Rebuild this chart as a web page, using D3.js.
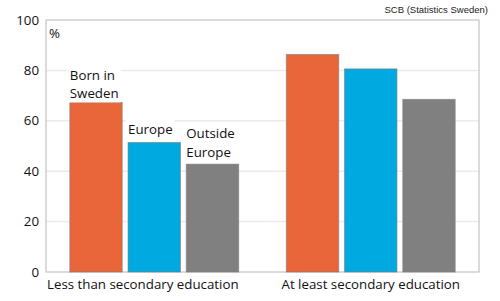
<!DOCTYPE html>
<html>
<head>
<meta charset="utf-8">
<script src="https://cdn.jsdelivr.net/npm/d3@7"></script>
<style>
  body { margin: 0; background: #fff; }
  text { font-family: "Open Sans", sans-serif; fill: #111; }
</style>
</head>
<body>
<div id="chart"></div>
<script>
var categories = ["Less than secondary education", "At least secondary education"];
var series = ["Born in Sweden", "Europe", "Outside Europe"];
var seriesLabels = [["Born in", "Sweden"], ["Europe"], ["Outside", "Europe"]];
var values = [
  [67.3, 51.4, 42.8],
  [86.3, 80.6, 68.5]
];
var colors = ["#e8663a", "#00a9e0", "#808080"];
var yTicks = [0, 20, 40, 60, 80, 100];

var width = 500, height = 301;
var margin = {top: 20, right: 21, bottom: 29, left: 46};
var w = width - margin.left - margin.right;
var h = height - margin.top - margin.bottom;
var fontSize = "13.3px";
var labelGap = [4, 8.5, 7.5];

var svg = d3.select("#chart").append("svg")
  .attr("width", width)
  .attr("height", height);

var g = svg.append("g")
  .attr("transform", "translate(" + margin.left + "," + margin.top + ")");

var x0 = d3.scaleBand().domain(categories).range([0, w]).paddingInner(0.22).paddingOuter(0.11);
var x1 = d3.scaleBand().domain(series).range([0, x0.bandwidth()]).paddingInner(0.1);
var y = d3.scaleLinear().domain([0, 100]).range([h, 0]);

// grid lines
g.selectAll("line.grid")
  .data(yTicks.filter(function(d){ return d > 0 && d < 100; }))
  .enter().append("line")
  .attr("class", "grid")
  .attr("x1", 0).attr("x2", w)
  .attr("y1", function(d){ return y(d); })
  .attr("y2", function(d){ return y(d); })
  .attr("stroke", "#ebebeb")
  .attr("stroke-width", 1.5);

// frame
g.append("rect")
  .attr("x", 0).attr("y", 0)
  .attr("width", w).attr("height", h)
  .attr("fill", "none")
  .attr("stroke", "#c4c4c4")
  .attr("stroke-width", 1.2);

// y tick labels
g.selectAll("text.ytick")
  .data(yTicks)
  .enter().append("text")
  .attr("class", "ytick")
  .attr("x", -7)
  .attr("y", function(d){ return y(d); })
  .attr("dy", "0.35em")
  .attr("text-anchor", "end")
  .style("font-size", fontSize)
  .text(function(d){ return d; });

// bars
var groups = g.selectAll("g.cat")
  .data(categories)
  .enter().append("g")
  .attr("class", "cat")
  .attr("transform", function(d){ return "translate(" + x0(d) + ",0)"; });

groups.selectAll("rect")
  .data(function(d, i){ return values[i].map(function(v, j){ return {s: series[j], v: v, j: j}; }); })
  .enter().append("rect")
  .attr("x", function(d){ return x1(d.s); })
  .attr("y", function(d){ return y(d.v); })
  .attr("width", x1.bandwidth())
  .attr("height", function(d){ return h - y(d.v); })
  .attr("fill", function(d){ return colors[d.j]; })
  .attr("stroke", "#7a7a7a")
  .attr("stroke-opacity", 0.6)
  .attr("stroke-width", 1);

// series labels above first group's bars
series.forEach(function(s, j){
  var lines = seriesLabels[j];
  var bx = x0(categories[0]) + x1(s);
  var top = y(values[0][j]);
  var lbl = g.append("g");
  lines.forEach(function(t, k){
    lbl.append("text")
      .attr("x", bx)
      .attr("y", top - labelGap[j] - (lines.length - 1 - k) * 18.5)
      .style("font-size", fontSize)
      .text(t);
  });
  var bb = lbl.node().getBBox();
  lbl.insert("rect", "text")
    .attr("x", bb.x - 2).attr("y", bb.y)
    .attr("width", bb.width + 4).attr("height", bb.height)
    .attr("fill", "#fff");
});

// % label
g.append("text")
  .attr("x", 3)
  .attr("y", 18)
  .style("font-size", fontSize)
  .text("%");

// category labels
g.selectAll("text.cat")
  .data(categories)
  .enter().append("text")
  .attr("class", "cat")
  .attr("x", function(d, i){ return i === 0 ? 1 : x0(d) + x0.bandwidth() / 2; })
  .attr("y", h + 16.5)
  .attr("text-anchor", function(d, i){ return i === 0 ? "start" : "middle"; })
  .style("font-size", fontSize)
  .text(function(d){ return d; });

// source
svg.append("text")
  .attr("x", 488)
  .attr("y", 13)
  .attr("text-anchor", "end")
  .style("font-family", "'Liberation Sans', Arial, sans-serif")
  .style("font-size", "9.5px")
  .style("fill", "#222")
  .text("SCB (Statistics Sweden)");
</script>
</body>
</html>
